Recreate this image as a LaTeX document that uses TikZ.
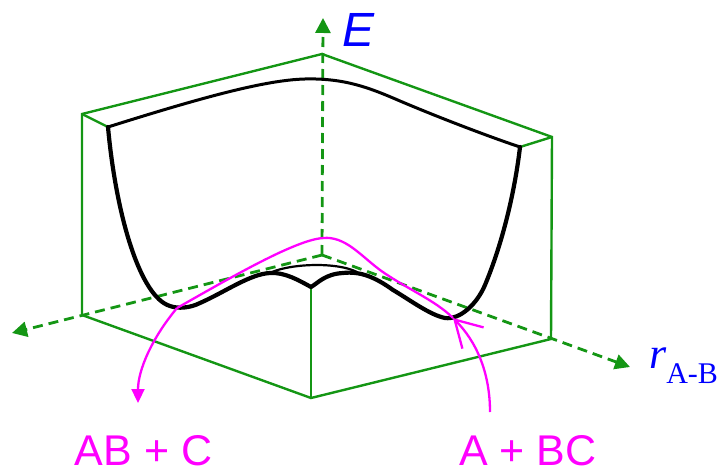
\documentclass[tikz,border=0pt]{standalone}
\usepackage{fontspec}
\usepackage{tikz}
\usetikzlibrary{arrows.meta}
\newfontfamily\sanslabel{Liberation Sans}
\newfontfamily\seriflabel{Liberation Serif}
\definecolor{boxgreen}{RGB}{20,150,20}
\definecolor{rxnpink}{RGB}{255,0,255}

\begin{document}
\begin{tikzpicture}[x=1pt,y=-1pt,
    box/.style={boxgreen,line width=2.4pt,line join=miter},
    axis/.style={boxgreen,line width=2.8pt,dash pattern=on 10pt off 6pt,-{Triangle[length=15pt,width=15pt]}},
    surf/.style={line width=4.2pt,line join=round,line cap=round},
    rxn/.style={rxnpink,line width=2.3pt}]
\useasboundingbox (0,0) rectangle (725,473);

% box corners and axes
\coordinate (O) at (322,255);
\coordinate (T) at (322,54);
\coordinate (LT) at (82,114);
\coordinate (LB) at (82,315);
\coordinate (B) at (311,398);
\coordinate (RB) at (551,339);
\coordinate (RT) at (552,137);
\coordinate (F) at (311,287);
\coordinate (ILT) at (108,127);
\coordinate (IRT) at (520,147);
\coordinate (Etip) at (323,18);
\coordinate (Ltip) at (12,333);
\coordinate (Rtip) at (630,367);

\draw[box] (LT) -- (T) -- (RT) -- (RB) -- (B) -- (LB) -- cycle;
\draw[box] (B) -- (F);
\draw[box] (LT) -- (ILT);
\draw[box] (RT) -- (IRT);

\draw[axis] (O) -- (Etip);
\draw[axis] (O) -- (Ltip);
\draw[axis] (O) -- (Rtip);

% energy surface
\draw[line width=3pt,line join=round] (ILT) .. controls (200,98) and (265,80) .. (305,79)
    .. controls (345,78) and (370,88) .. (400,101) .. controls (440,118) and (490,137) .. (IRT);
\draw[surf] (ILT) .. controls (116,215) and (140,297) .. (170,306)
    .. controls (178,309) and (190,308) .. (200,303)
    .. controls (225,292) and (250,274) .. (270,273)
    .. controls (285,272) and (300,281) .. (F)
    .. controls (318,283) and (325,274) .. (343,273)
    .. controls (360,271) and (375,277) .. (393,290)
    .. controls (410,300) and (430,315) .. (445,318)
    .. controls (460,320) and (477,304) .. (485,285)
    .. controls (503,242) and (515,190) .. (IRT);
\draw[line width=2.2pt] (268,274) .. controls (285,264) and (335,261) .. (357,272);

% reaction path
\coordinate (Pin) at (177,308);
\coordinate (Ptop) at (323,238);
\coordinate (Pout) at (453,318);
\coordinate (Aend) at (138,403);
\coordinate (Astart) at (490,412);
\draw[rxn] (Pin) .. controls (230,278) and (295,240) .. (Ptop)
    .. controls (345,236) and (360,255) .. (380,270) .. controls (405,288) and (435,300) .. (Pout);
\draw[rxn,-{Triangle[length=14pt,width=13pt]}] (Pin) .. controls (152,338) and (138,370) .. (Aend);
\draw[rxn,-{Straight Barb[length=26pt,width=30pt]}] (Astart) .. controls (490,372) and (476,341) .. (Pout);

\node[anchor=base west,inner sep=0,blue,font=\fontsize{48}{48}\sanslabel\itshape] (Elab) at (342,47) {E};
\node[anchor=base west,inner sep=0,blue] (rlab) at (649,368) {\fontsize{44}{44}\seriflabel\itshape r\raisebox{-15pt}{\fontsize{30}{30}\selectfont\upshape A-B}};
\node[anchor=base,inner sep=0,rxnpink,font=\fontsize{43}{43}\sanslabel] (prod) at (143.5,465) {AB + C};
\node[anchor=base,inner sep=0,rxnpink,font=\fontsize{43}{43}\sanslabel] (reac) at (528,465) {A + BC};
\end{tikzpicture}
\end{document}
